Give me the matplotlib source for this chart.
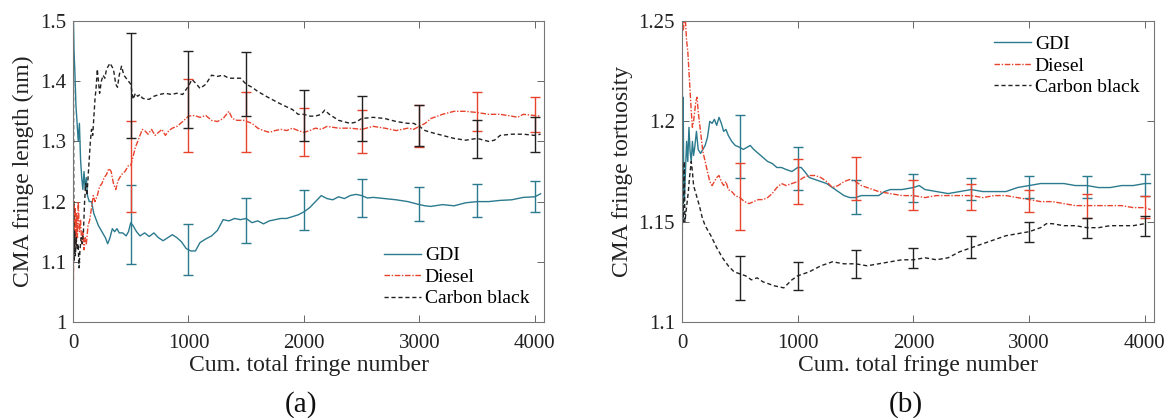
import numpy as np
import matplotlib.pyplot as plt

plt.rcParams['font.family'] = 'serif'
plt.rcParams['font.serif'] = ['Liberation Serif', 'DejaVu Serif']

# ---- panel (a): CMA fringe length ----
gdi_len_x = [0, 3, 8, 15, 25, 35, 45, 55, 65, 75, 85, 95, 105, 115, 125, 140, 160, 180, 200, 220,
             250, 280, 300, 320, 340, 360, 380, 400, 430, 460, 480, 500, 520, 550, 580, 620, 660, 700,
             740, 780, 820, 860, 900, 940, 980, 1020, 1060, 1100, 1150, 1200, 1250, 1300, 1350, 1400,
             1450, 1500, 1550, 1600, 1650, 1700, 1750, 1800, 1850, 1900, 1950, 2000, 2050, 2100, 2150,
             2200, 2250, 2300, 2350, 2400, 2450, 2500, 2550, 2600, 2700, 2800, 2900, 3000, 3050, 3100,
             3200, 3300, 3400, 3500, 3600, 3700, 3800, 3900, 4000, 4050]
gdi_len_y = [1.0, 1.5, 1.45, 1.42, 1.36, 1.33, 1.3, 1.33, 1.27, 1.24, 1.22, 1.25, 1.22, 1.24, 1.21,
             1.2, 1.2, 1.18, 1.17, 1.16, 1.15, 1.14, 1.13, 1.14, 1.155, 1.15, 1.155, 1.148, 1.148,
             1.143, 1.15, 1.165, 1.16, 1.15, 1.143, 1.148, 1.142, 1.148, 1.14, 1.135, 1.14, 1.145,
             1.14, 1.133, 1.122, 1.118, 1.118, 1.132, 1.138, 1.143, 1.152, 1.17, 1.168, 1.172, 1.17,
             1.172, 1.165, 1.168, 1.163, 1.168, 1.17, 1.172, 1.172, 1.175, 1.178, 1.183, 1.19, 1.2,
             1.21, 1.205, 1.203, 1.208, 1.205, 1.21, 1.212, 1.21, 1.206, 1.207, 1.205, 1.203, 1.2,
             1.195, 1.193, 1.192, 1.195, 1.193, 1.198, 1.2, 1.2, 1.202, 1.203, 1.207, 1.208, 1.213]

dsl_len_x = [0, 3, 8, 12, 18, 24, 30, 38, 45, 55, 65, 75, 85, 95, 105, 115, 130, 145, 160, 175, 190,
             210, 230, 250, 270, 290, 310, 330, 350, 370, 390, 420, 450, 480, 500, 520, 540, 560, 580,
             600, 620, 650, 680, 710, 740, 770, 800, 830, 860, 900, 950, 1000, 1050, 1100, 1150, 1200,
             1250, 1300, 1350, 1380, 1420, 1480, 1550, 1600, 1650, 1700, 1750, 1800, 1850, 1900, 1950,
             2000, 2050, 2100, 2150, 2200, 2300, 2400, 2500, 2600, 2700, 2800, 2900, 2950, 3000, 3050,
             3100, 3200, 3300, 3400, 3500, 3600, 3700, 3800, 3850, 3900, 4000, 4050]
dsl_len_y = [1.5, 1.07, 1.2, 1.12, 1.19, 1.13, 1.18, 1.14, 1.2, 1.15, 1.17, 1.13, 1.15, 1.12, 1.14,
             1.13, 1.16, 1.17, 1.19, 1.21, 1.2, 1.21, 1.225, 1.23, 1.24, 1.245, 1.255, 1.25, 1.23,
             1.22, 1.235, 1.245, 1.25, 1.26, 1.26, 1.275, 1.29, 1.3, 1.31, 1.32, 1.318, 1.312, 1.32,
             1.31, 1.315, 1.32, 1.31, 1.318, 1.322, 1.325, 1.333, 1.342, 1.343, 1.34, 1.343, 1.335,
             1.333, 1.338, 1.35, 1.338, 1.335, 1.335, 1.33, 1.322, 1.318, 1.315, 1.318, 1.32, 1.318,
             1.322, 1.318, 1.315, 1.318, 1.322, 1.32, 1.325, 1.322, 1.322, 1.32, 1.325, 1.322, 1.318,
             1.322, 1.32, 1.325, 1.33, 1.338, 1.345, 1.35, 1.35, 1.348, 1.345, 1.345, 1.342, 1.34,
             1.345, 1.343, 1.342]

cb_len_x = [0, 3, 8, 14, 20, 28, 36, 44, 52, 60, 70, 80, 90, 100, 110, 120, 130, 140, 150, 160, 170,
            180, 190, 200, 210, 220, 230, 245, 260, 275, 290, 305, 320, 335, 350, 370, 385, 400, 420,
            440, 460, 480, 500, 520, 540, 560, 580, 600, 630, 660, 700, 750, 800, 850, 900, 950, 1000,
            1030, 1070, 1100, 1150, 1200, 1250, 1300, 1350, 1400, 1450, 1500, 1550, 1600, 1700, 1800,
            1900, 1950, 2000, 2050, 2100, 2150, 2180, 2220, 2300, 2400, 2450, 2500, 2600, 2700, 2800,
            2900, 2950, 3000, 3050, 3100, 3200, 3300, 3400, 3500, 3600, 3650, 3700, 3800, 3900, 4000,
            4050]
cb_len_y = [1.0, 1.4, 1.1, 1.15, 1.11, 1.14, 1.12, 1.13, 1.09, 1.12, 1.14, 1.13, 1.15, 1.2, 1.23,
            1.21, 1.24, 1.27, 1.3, 1.32, 1.31, 1.34, 1.37, 1.39, 1.42, 1.4, 1.38, 1.4, 1.41, 1.405,
            1.42, 1.425, 1.43, 1.425, 1.42, 1.395, 1.39, 1.41, 1.425, 1.41, 1.405, 1.4, 1.395, 1.37,
            1.38, 1.375, 1.378, 1.372, 1.37, 1.37, 1.375, 1.378, 1.38, 1.378, 1.38, 1.378, 1.392,
            1.403, 1.395, 1.388, 1.395, 1.41, 1.408, 1.41, 1.405, 1.405, 1.405, 1.395, 1.39, 1.383,
            1.372, 1.362, 1.353, 1.345, 1.345, 1.342, 1.342, 1.345, 1.352, 1.345, 1.335, 1.33, 1.332,
            1.338, 1.34, 1.338, 1.333, 1.33, 1.33, 1.325, 1.318, 1.315, 1.31, 1.305, 1.302, 1.305,
            1.3, 1.302, 1.31, 1.312, 1.312, 1.31, 1.312]

err_x = [500, 1000, 1500, 2000, 2500, 3000, 3500, 4000]
gdi_len_lo = [1.097, 1.078, 1.132, 1.153, 1.174, 1.167, 1.174, 1.183]
gdi_len_hi = [1.227, 1.162, 1.206, 1.219, 1.238, 1.225, 1.230, 1.234]
dsl_len_lo = [1.183, 1.283, 1.283, 1.275, 1.280, 1.290, 1.318, 1.315]
dsl_len_hi = [1.334, 1.403, 1.382, 1.355, 1.353, 1.360, 1.382, 1.373]
cb_len_lo = [1.305, 1.323, 1.343, 1.300, 1.300, 1.293, 1.272, 1.283]
cb_len_hi = [1.480, 1.450, 1.448, 1.385, 1.375, 1.360, 1.335, 1.340]

# ---- panel (b): CMA fringe tortuosity ----
gdi_tor_x = [0, 2, 6, 10, 15, 20, 30, 40, 50, 60, 70, 80, 90, 100, 110, 125, 140, 160, 180, 200, 220,
             240, 260, 280, 300, 320, 340, 360, 380, 400, 430, 460, 500, 530, 560, 590, 620, 660, 700,
             740, 780, 820, 860, 900, 950, 1000, 1030, 1060, 1100, 1150, 1200, 1250, 1300, 1350, 1400,
             1450, 1500, 1550, 1600, 1700, 1750, 1800, 1900, 2000, 2050, 2100, 2200, 2300, 2400, 2500,
             2600, 2700, 2800, 2900, 3000, 3100, 3200, 3300, 3400, 3500, 3600, 3700, 3800, 3900, 4000,
             4050]
gdi_tor_y = [1.11, 1.25, 1.15, 1.212, 1.17, 1.16, 1.175, 1.19, 1.18, 1.197, 1.185, 1.18, 1.19, 1.183,
             1.187, 1.195, 1.186, 1.184, 1.186, 1.188, 1.192, 1.2, 1.199, 1.201, 1.198, 1.202, 1.199,
             1.195, 1.196, 1.193, 1.19, 1.188, 1.187, 1.186, 1.187, 1.188, 1.186, 1.184, 1.182, 1.18,
             1.179, 1.177, 1.177, 1.176, 1.175, 1.177, 1.177, 1.175, 1.172, 1.171, 1.17, 1.169, 1.167,
             1.165, 1.163, 1.162, 1.162, 1.163, 1.163, 1.163, 1.165, 1.166, 1.166, 1.167, 1.168, 1.166,
             1.165, 1.164, 1.165, 1.166, 1.165, 1.165, 1.165, 1.167, 1.168, 1.169, 1.169, 1.169, 1.168,
             1.168, 1.167, 1.167, 1.168, 1.168, 1.169, 1.169]

dsl_tor_x = [0, 4, 10, 20, 30, 40, 50, 60, 70, 80, 90, 100, 110, 120, 130, 140, 160, 180, 200, 220,
             240, 260, 280, 300, 320, 340, 360, 380, 400, 430, 460, 500, 540, 580, 620, 660, 700, 740,
             780, 820, 860, 900, 950, 1000, 1050, 1100, 1150, 1200, 1250, 1300, 1350, 1400, 1450, 1500,
             1550, 1600, 1700, 1800, 1900, 2000, 2100, 2200, 2300, 2400, 2500, 2600, 2700, 2800, 2900,
             3000, 3100, 3200, 3300, 3400, 3500, 3600, 3700, 3800, 3900, 4000, 4050]
dsl_tor_y = [1.24, 1.25, 1.245, 1.25, 1.25, 1.24, 1.235, 1.225, 1.215, 1.205, 1.197, 1.2, 1.205, 1.21,
             1.212, 1.205, 1.195, 1.185, 1.18, 1.175, 1.17, 1.168, 1.17, 1.172, 1.173, 1.17, 1.168,
             1.17, 1.166, 1.165, 1.163, 1.162, 1.16, 1.159, 1.16, 1.161, 1.161, 1.162, 1.164, 1.167,
             1.169, 1.168, 1.169, 1.17, 1.172, 1.173, 1.173, 1.172, 1.17, 1.167, 1.168, 1.17, 1.171,
             1.17, 1.168, 1.167, 1.165, 1.164, 1.163, 1.163, 1.162, 1.163, 1.163, 1.163, 1.163, 1.162,
             1.163, 1.163, 1.162, 1.161, 1.16, 1.16, 1.159, 1.158, 1.158, 1.158, 1.158, 1.158, 1.157,
             1.157, 1.156]

cb_tor_x = [0, 3, 6, 10, 15, 20, 25, 35, 45, 55, 65, 80, 90, 100, 115, 130, 150, 175, 200, 250, 300,
            350, 400, 450, 500, 550, 600, 650, 700, 800, 880, 950, 1000, 1100, 1200, 1300, 1400, 1500,
            1600, 1700, 1800, 1900, 2000, 2100, 2200, 2300, 2400, 2500, 2600, 2700, 2800, 2900, 3000,
            3100, 3150, 3200, 3300, 3400, 3500, 3600, 3700, 3800, 3900, 4000]
cb_tor_y = [1.1, 1.145, 1.16, 1.15, 1.17, 1.18, 1.15, 1.155, 1.16, 1.165, 1.172, 1.18, 1.175, 1.168,
            1.165, 1.162, 1.158, 1.152, 1.148, 1.143, 1.137, 1.132, 1.128, 1.125, 1.124, 1.123, 1.121,
            1.122, 1.12, 1.118, 1.117, 1.121, 1.123, 1.125, 1.128, 1.13, 1.129, 1.129, 1.128, 1.129,
            1.13, 1.131, 1.131, 1.132, 1.131, 1.132, 1.135, 1.137, 1.139, 1.141, 1.143, 1.144, 1.145,
            1.147, 1.149, 1.149, 1.148, 1.148, 1.147, 1.147, 1.148, 1.148, 1.148, 1.149]

gdi_tor_lo = [1.172, 1.166, 1.154, 1.160, 1.161, 1.162, 1.162, 1.163]
gdi_tor_hi = [1.203, 1.187, 1.171, 1.174, 1.172, 1.173, 1.173, 1.174]
dsl_tor_lo = [1.146, 1.159, 1.161, 1.156, 1.156, 1.155, 1.152, 1.152]
dsl_tor_hi = [1.179, 1.181, 1.182, 1.171, 1.169, 1.166, 1.164, 1.163]
cb_tor_lo = [1.111, 1.116, 1.122, 1.127, 1.132, 1.140, 1.142, 1.143]
cb_tor_hi = [1.133, 1.130, 1.136, 1.137, 1.143, 1.150, 1.152, 1.153]

c_gdi = '#2b7a8e'
c_dsl = '#e8432c'
c_cb = '#222222'
ls_dsl = (0, (4, 1.2, 1, 1.2))
ls_cb = (0, (3, 2))


def errs(lo, hi):
    lo = np.array(lo)
    hi = np.array(hi)
    mid = (lo + hi) / 2
    return mid, [mid - lo, hi - mid]


def draw(ax, series, bars):
    for (x, y, c, ls, lab) in series:
        ax.plot(x, y, color=c, linestyle=ls, lw=1.0, label=lab)
    for (lo, hi, c) in bars:
        mid, e = errs(lo, hi)
        ax.errorbar(err_x, mid, yerr=e, fmt='none', ecolor=c, elinewidth=1.0,
                    capsize=3.5, capthick=1.0)
    ax.set_xlim(0, 4080)
    ax.set_xticks([0, 1000, 2000, 3000, 4000])
    ax.tick_params(direction='in', top=True, right=True, length=5, width=0.7,
                   color='#666666', labelsize=15, labelcolor='#222222')
    ax.tick_params(axis='x', pad=9)
    ax.tick_params(axis='y', pad=5)
    for s in ax.spines.values():
        s.set_color('#777777')
        s.set_linewidth(0.8)
    ax.set_xlabel('Cum. total fringe number', fontsize=17, labelpad=1, color='#222222')


fig = plt.figure(figsize=(11.67, 4.18), dpi=100)
ax1 = fig.add_axes([0.0626, 0.2297, 0.4036, 0.7200])
ax2 = fig.add_axes([0.5844, 0.2297, 0.4045, 0.7200])

draw(ax1, [(gdi_len_x, gdi_len_y, c_gdi, '-', 'GDI'),
           (dsl_len_x, dsl_len_y, c_dsl, ls_dsl, 'Diesel'),
           (cb_len_x, cb_len_y, c_cb, ls_cb, 'Carbon black')],
     [(gdi_len_lo, gdi_len_hi, c_gdi), (dsl_len_lo, dsl_len_hi, c_dsl), (cb_len_lo, cb_len_hi, c_cb)])
ax1.set_ylim(1.0, 1.5)
ax1.set_yticks([1.0, 1.1, 1.2, 1.3, 1.4, 1.5])
ax1.set_yticklabels(['1', '1.1', '1.2', '1.3', '1.4', '1.5'])
ax1.set_ylabel('CMA fringe length (nm)', fontsize=17, labelpad=4, color='#222222')
ax1.legend(loc='lower right', frameon=False, fontsize=14, handlelength=1.9,
           handletextpad=0.2, labelspacing=0.2, borderaxespad=0.35)

draw(ax2, [(gdi_tor_x, gdi_tor_y, c_gdi, '-', 'GDI'),
           (dsl_tor_x, dsl_tor_y, c_dsl, ls_dsl, 'Diesel'),
           (cb_tor_x, cb_tor_y, c_cb, ls_cb, 'Carbon black')],
     [(gdi_tor_lo, gdi_tor_hi, c_gdi), (dsl_tor_lo, dsl_tor_hi, c_dsl), (cb_tor_lo, cb_tor_hi, c_cb)])
ax2.set_ylim(1.1, 1.25)
ax2.set_yticks([1.1, 1.15, 1.2, 1.25])
ax2.set_yticklabels(['1.1', '1.15', '1.2', '1.25'])
ax2.set_ylabel('CMA fringe tortuosity', fontsize=17, labelpad=4, color='#222222')
ax2.legend(loc='upper right', frameon=False, fontsize=14, handlelength=1.9,
           handletextpad=0.2, labelspacing=0.2, borderaxespad=0.35)

fig.text(0.258, 0.0, '(a)', fontsize=21, ha='center', va='bottom', color='#111111')
fig.text(0.776, 0.0, '(b)', fontsize=21, ha='center', va='bottom', color='#111111')

fig.savefig('out.png', dpi=100)
